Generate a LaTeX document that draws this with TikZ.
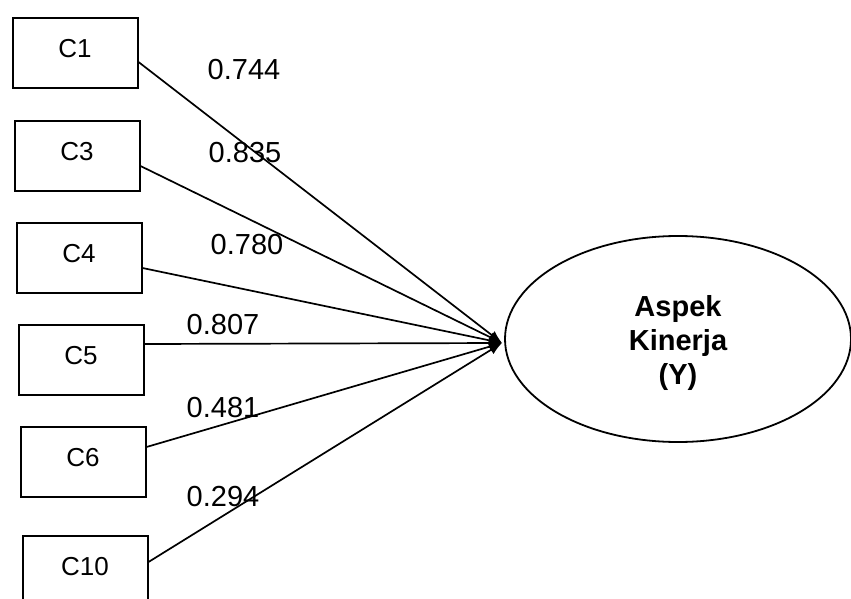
\documentclass[tikz,border=0pt]{standalone}
\usepackage{fontspec}
\setmainfont{Liberation Sans}
\usetikzlibrary{shapes.geometric,arrows.meta}
\begin{document}
\begin{tikzpicture}[x=1pt,y=-1pt,
  itembox/.style={draw,line width=2pt,minimum width=125pt,minimum height=70pt,inner sep=0pt,
    text height=18.6pt,text depth=10pt,font=\fontsize{26}{29}\selectfont},
  latent/.style={draw,ellipse,line width=1.8pt,minimum width=346pt,minimum height=206pt,inner sep=0pt},
  latentname/.style={align=center,inner sep=0pt,font=\bfseries\fontsize{29}{34}\selectfont},
  load/.style={draw,line width=1.7pt,-{Latex[length=13pt,width=10pt]}},
  coef/.style={font=\fontsize{29}{32}\selectfont,inner sep=0pt}]
\useasboundingbox (0,0) rectangle (851,599);
\fill[white] (0,0) rectangle (851,599);
\begin{scope}
\clip (0,0) rectangle (851,599);
% indicator boxes
\node[itembox] (c1)  at (75,53)   {C1};
\node[itembox] (c3)  at (77,156)  {C3};
\node[itembox] (c4)  at (79,258)  {C4};
\node[itembox] (c5)  at (81,360)  {C5};
\node[itembox] (c6)  at (83,462)  {C6};
\node[itembox] (c10) at (85,571)  {C10};
% latent variable
\node[latent] (y) at (678,339) {};
\node[latentname] (yname) at ([yshift=-4pt]y.center) {Aspek\\Kinerja\\(Y)};
% loadings
\coordinate (tip) at (502,343);
\draw[load] ([yshift=-9pt]c1.east)  -- (tip);
\draw[load] ([yshift=-10pt]c3.east) -- (tip);
\draw[load] ([yshift=-10pt]c4.east) -- (tip);
\draw[load] ([yshift=16pt]c5.east)  -- (tip);
\draw[load] ([yshift=15pt]c6.east)  -- (tip);
\draw[load] ([yshift=9pt]c10.east)  -- (tip);
\node[coef] (l1)  at (244,70)  {0.744};
\node[coef] (l3)  at (245,153) {0.835};
\node[coef] (l4)  at (247,245) {0.780};
\node[coef] (l5)  at (223,325) {0.807};
\node[coef] (l6)  at (223,408) {0.481};
\node[coef] (l10) at (223,497) {0.294};
\end{scope}
\end{tikzpicture}
\end{document}
